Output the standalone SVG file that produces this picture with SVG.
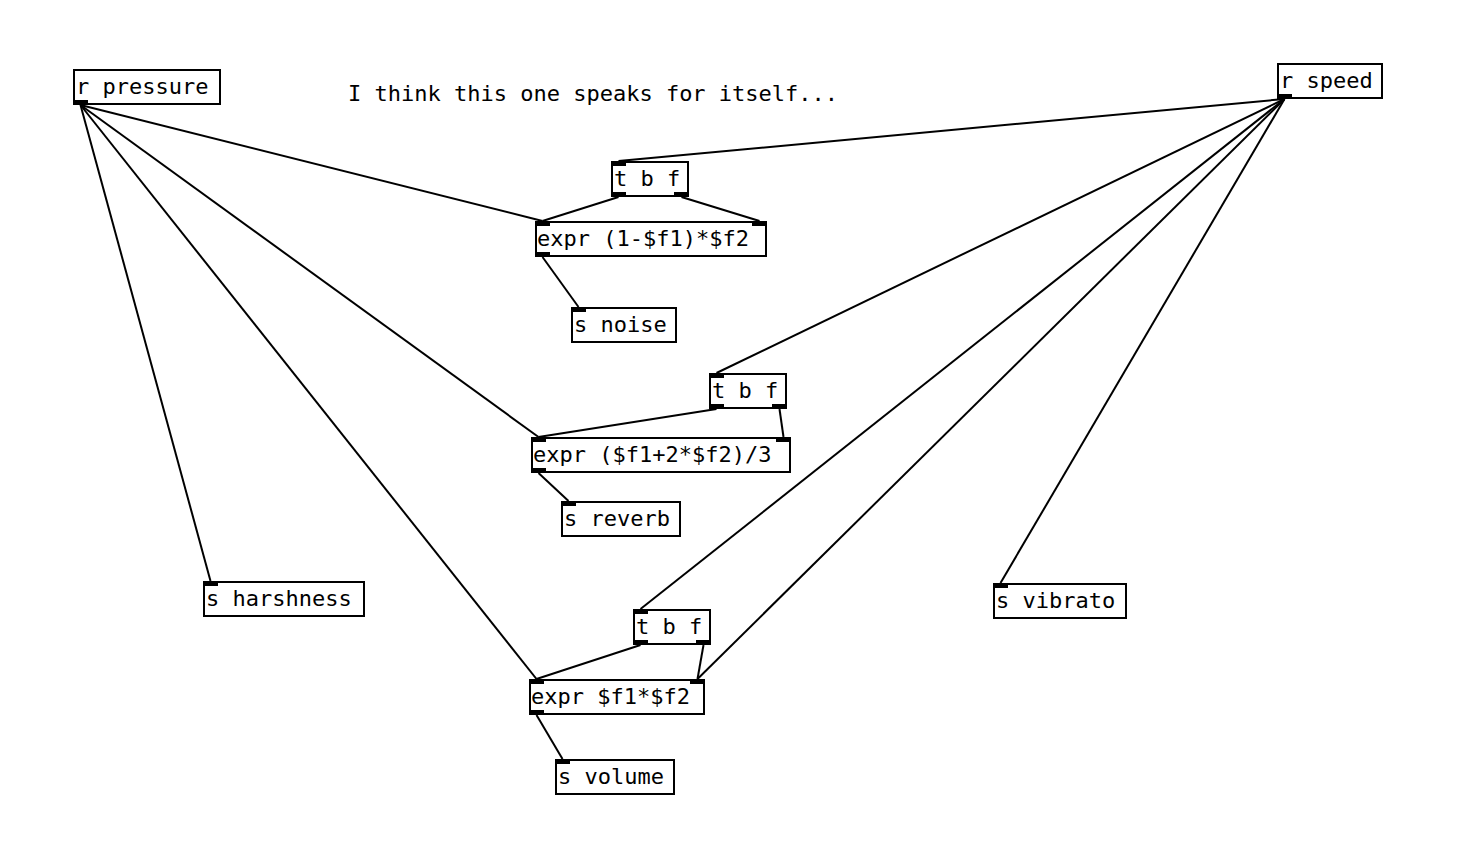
<svg xmlns="http://www.w3.org/2000/svg" width="1460" height="856" viewBox="0 0 1460 856">
<style>
.box{fill:#fff;stroke:#000;stroke-width:2}
.io{fill:#000}
.t{font-family:"DejaVu Sans Mono","Liberation Mono",monospace;font-size:22px;fill:#000}
.c{stroke:#000;stroke-width:2;fill:none}
</style>
<rect width="1460" height="856" fill="#fff"/>
<g id="connectors">
<line class="c" x1="80.5" y1="105" x2="542.5" y2="221"/>
<line class="c" x1="80.5" y1="105" x2="538.5" y2="437"/>
<line class="c" x1="80.5" y1="105" x2="536.5" y2="679"/>
<line class="c" x1="80.5" y1="105" x2="210.5" y2="581"/>
<line class="c" x1="1284.5" y1="99" x2="618.5" y2="161"/>
<line class="c" x1="1284.5" y1="99" x2="716.5" y2="373"/>
<line class="c" x1="1284.5" y1="99" x2="640.5" y2="609"/>
<line class="c" x1="1284.5" y1="99" x2="697.5" y2="679"/>
<line class="c" x1="1284.5" y1="99" x2="1000.5" y2="583"/>
<line class="c" x1="618.5" y1="197" x2="542.5" y2="221"/>
<line class="c" x1="681.5" y1="197" x2="759.5" y2="221"/>
<line class="c" x1="542.5" y1="257" x2="578.5" y2="307"/>
<line class="c" x1="716.5" y1="409" x2="538.5" y2="437"/>
<line class="c" x1="779.5" y1="409" x2="783.5" y2="437"/>
<line class="c" x1="538.5" y1="473" x2="568.5" y2="501"/>
<line class="c" x1="640.5" y1="645" x2="536.5" y2="679"/>
<line class="c" x1="703.5" y1="645" x2="697.5" y2="679"/>
<line class="c" x1="536.5" y1="715" x2="562.5" y2="759"/>
</g>
<g id="comment">
<text class="t" x="348" y="101">I think this one speaks for itself...</text>
</g>
<g id="r_pressure">
<rect class="box" x="74" y="70" width="146" height="34"/>
<rect class="io" x="73" y="100" width="15" height="5"/>
<text class="t" x="76" y="93.5">r pressure</text>
</g>
<g id="r_speed">
<rect class="box" x="1278" y="64" width="104" height="34"/>
<rect class="io" x="1277" y="94" width="15" height="5"/>
<text class="t" x="1280" y="87.5">r speed</text>
</g>
<g id="tbf1">
<rect class="box" x="612" y="162" width="76" height="34"/>
<rect class="io" x="611" y="161" width="15" height="5"/>
<rect class="io" x="611" y="192" width="15" height="5"/>
<rect class="io" x="674" y="192" width="15" height="5"/>
<text class="t" x="614" y="185.5">t b f</text>
</g>
<g id="expr1">
<rect class="box" x="536" y="222" width="230" height="34"/>
<rect class="io" x="535" y="221" width="15" height="5"/>
<rect class="io" x="752" y="221" width="15" height="5"/>
<rect class="io" x="535" y="252" width="15" height="5"/>
<text class="t" x="537" y="245.5">expr (1-$f1)*$f2</text>
</g>
<g id="s_noise">
<rect class="box" x="572" y="308" width="104" height="34"/>
<rect class="io" x="571" y="307" width="15" height="5"/>
<text class="t" x="574" y="331.5">s noise</text>
</g>
<g id="tbf2">
<rect class="box" x="710" y="374" width="76" height="34"/>
<rect class="io" x="709" y="373" width="15" height="5"/>
<rect class="io" x="709" y="404" width="15" height="5"/>
<rect class="io" x="772" y="404" width="15" height="5"/>
<text class="t" x="712" y="397.5">t b f</text>
</g>
<g id="expr2">
<rect class="box" x="532" y="438" width="258" height="34"/>
<rect class="io" x="531" y="437" width="15" height="5"/>
<rect class="io" x="776" y="437" width="15" height="5"/>
<rect class="io" x="531" y="468" width="15" height="5"/>
<text class="t" x="533" y="461.5">expr ($f1+2*$f2)/3</text>
</g>
<g id="s_reverb">
<rect class="box" x="562" y="502" width="118" height="34"/>
<rect class="io" x="561" y="501" width="15" height="5"/>
<text class="t" x="564" y="525.5">s reverb</text>
</g>
<g id="s_harshness">
<rect class="box" x="204" y="582" width="160" height="34"/>
<rect class="io" x="203" y="581" width="15" height="5"/>
<text class="t" x="206" y="605.5">s harshness</text>
</g>
<g id="s_vibrato">
<rect class="box" x="994" y="584" width="132" height="34"/>
<rect class="io" x="993" y="583" width="15" height="5"/>
<text class="t" x="996" y="607.5">s vibrato</text>
</g>
<g id="tbf3">
<rect class="box" x="634" y="610" width="76" height="34"/>
<rect class="io" x="633" y="609" width="15" height="5"/>
<rect class="io" x="633" y="640" width="15" height="5"/>
<rect class="io" x="696" y="640" width="15" height="5"/>
<text class="t" x="636" y="633.5">t b f</text>
</g>
<g id="expr3">
<rect class="box" x="530" y="680" width="174" height="34"/>
<rect class="io" x="529" y="679" width="15" height="5"/>
<rect class="io" x="690" y="679" width="15" height="5"/>
<rect class="io" x="529" y="710" width="15" height="5"/>
<text class="t" x="531" y="703.5">expr $f1*$f2</text>
</g>
<g id="s_volume">
<rect class="box" x="556" y="760" width="118" height="34"/>
<rect class="io" x="555" y="759" width="15" height="5"/>
<text class="t" x="558" y="783.5">s volume</text>
</g>
</svg>
